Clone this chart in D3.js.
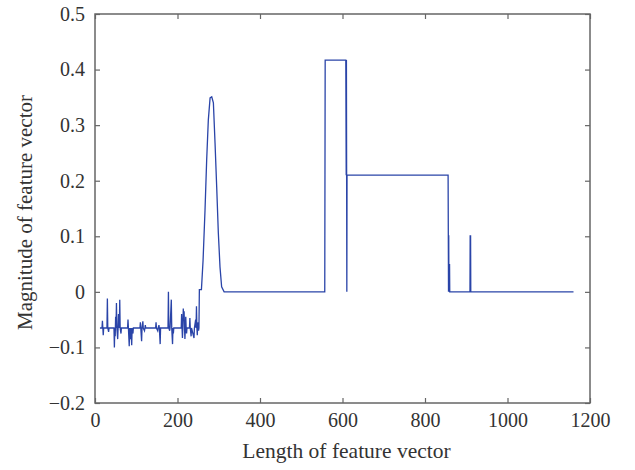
<!DOCTYPE html>
<html>
<head>
<meta charset="utf-8">
<script src="https://cdn.jsdelivr.net/npm/d3@7"></script>
<style>
  body { margin: 0; background: #fff; }
  text { font-family: "Liberation Serif", "Times New Roman", serif; fill: #333; }
</style>
</head>
<body>
<svg id="chart" width="635" height="470"></svg>
<script>
// noisy start, around -0.065
const noiseX = [12,17,18,19,20,21,29,30,31,33,34,46,47,48,49,50,51,52,53,54,55,56,57,58,59,60,61,63,64,
  79,80,81,83,84,86,87,89,90,92,93,109,110,111,113,114,116,117,120,121,122,123,
  147,148,149,152,153,155,156,158,159,177,178,179,181,182,185,186,188,189,190,191,
  209,210,211,212,213,214,215,216,217,218,219,220,221,222,223,
  229,230,231,233,234,240,241,244,245,246,247,248,249,250,251,252,253]
const noiseY = [-0.065,-0.065,-0.052,-0.065,-0.078,-0.065,-0.065,-0.012,-0.065,-0.072,-0.065,
  -0.065,-0.1,-0.065,-0.08,-0.045,-0.065,-0.02,-0.065,-0.075,-0.085,-0.065,-0.04,-0.05,-0.065,-0.014,-0.065,-0.075,-0.065,
  -0.065,-0.05,-0.065,-0.098,-0.065,-0.085,-0.065,-0.096,-0.065,-0.075,-0.065,
  -0.065,-0.055,-0.065,-0.089,-0.065,-0.053,-0.065,-0.07,-0.065,-0.06,-0.065,
  -0.065,-0.055,-0.065,-0.07,-0.065,-0.06,-0.065,-0.094,-0.065,
  -0.065,0.0,-0.065,-0.07,-0.065,-0.014,-0.065,-0.094,-0.065,-0.075,-0.065,
  -0.065,-0.04,-0.065,-0.083,-0.065,-0.03,-0.05,-0.035,-0.065,-0.085,-0.065,-0.045,-0.065,-0.075,-0.065,
  -0.065,-0.047,-0.065,-0.08,-0.065,-0.083,-0.065,-0.05,-0.065,-0.026,-0.065,-0.078,-0.055,-0.065,-0.07,-0.065,0.004]

// peak near 283
const peakX = [258,262,266.7,270.7,274.7,279,283,287,291,295,299,303,307,313]
const peakY = [0.004,0.057,0.147,0.237,0.309,0.349,0.351,0.34,0.268,0.189,0.106,0.045,0.009,0.0]

// step part
const stepX = [557,558,608,609,609.5,610,610.5,611,856,857,857.5,858,858.5,859,859.5,860,909,909.5,910,910.5,911,1160]
const stepY = [0,0.417,0.417,0.21,0.417,0.21,0.0,0.21,0.21,0.0,0.102,0.0,0.05,0.0,0.05,0.0,0.0,0.102,0.0,0.102,0.0,0.0]

const xTicks = [0,200,400,600,800,1000,1200]
const yTicks = [-0.2,-0.1,0,0.1,0.2,0.3,0.4,0.5]

const margin = {left: 95, top: 14, right: 45, bottom: 67}
const W = 635, H = 470
const svg = d3.select("#chart")

let x = d3.scaleLinear().domain([0,1200]).range([margin.left, W - margin.right])
let y = d3.scaleLinear().domain([-0.2,0.5]).range([H - margin.bottom, margin.top])

let pts = []
noiseX.forEach((v,i) => pts.push([v, noiseY[i]]))
peakX.forEach((v,i) => pts.push([v, peakY[i]]))
stepX.forEach((v,i) => pts.push([v, stepY[i]]))

const line = d3.line().x(d => x(d[0])).y(d => y(d[1]))

svg.append("path")
  .attr("d", line(pts))
  .attr("fill", "none")
  .attr("stroke", "#2a44a8")
  .attr("stroke-width", 1.3)

//-------- axes, ticks inward on all 4 sides
const axB = svg.append("g").attr("transform", "translate(0," + y(-0.2) + ")")
  .call(d3.axisBottom(x).tickValues(xTicks).tickSizeInner(-5).tickSizeOuter(0).tickPadding(10).tickFormat(d3.format("d")))
const axT = svg.append("g").attr("transform", "translate(0," + y(0.5) + ")")
  .call(d3.axisTop(x).tickValues(xTicks).tickSizeInner(-5).tickSizeOuter(0).tickFormat(""))
const axL = svg.append("g").attr("transform", "translate(" + x(0) + ",0)")
  .call(d3.axisLeft(y).tickValues(yTicks).tickSizeInner(-5).tickSizeOuter(0).tickPadding(10).tickFormat(d => d == 0 ? "0" : d3.format(".1f")(d)))
const axR = svg.append("g").attr("transform", "translate(" + x(1200) + ",0)")
  .call(d3.axisRight(y).tickValues(yTicks).tickSizeInner(-5).tickSizeOuter(0).tickFormat(""))

for (let a of [axB, axT, axL, axR]) {
  a.select(".domain").remove()
  a.selectAll("line").attr("stroke", "#666").attr("stroke-width", 1.2)
  a.selectAll("text").attr("font-size", 20).attr("fill", "#333")
    .attr("font-family", "Liberation Serif, Times New Roman, serif")
}

svg.append("rect")
  .attr("x", x(0)).attr("y", y(0.5))
  .attr("width", x(1200) - x(0)).attr("height", y(-0.2) - y(0.5))
  .attr("fill", "none").attr("stroke", "#666").attr("stroke-width", 1.5)

svg.append("text")
  .attr("x", (x(0) + x(1200)) / 2 + 4).attr("y", 458)
  .attr("text-anchor", "middle").attr("font-size", 21.5)
  .text("Length of feature vector")

svg.append("text")
  .attr("transform", "translate(32," + ((y(0.5) + y(-0.2)) / 2 + 4) + ") rotate(-90)")
  .attr("text-anchor", "middle").attr("font-size", 21)
  .text("Magnitude of feature vector")
</script>
</body>
</html>
